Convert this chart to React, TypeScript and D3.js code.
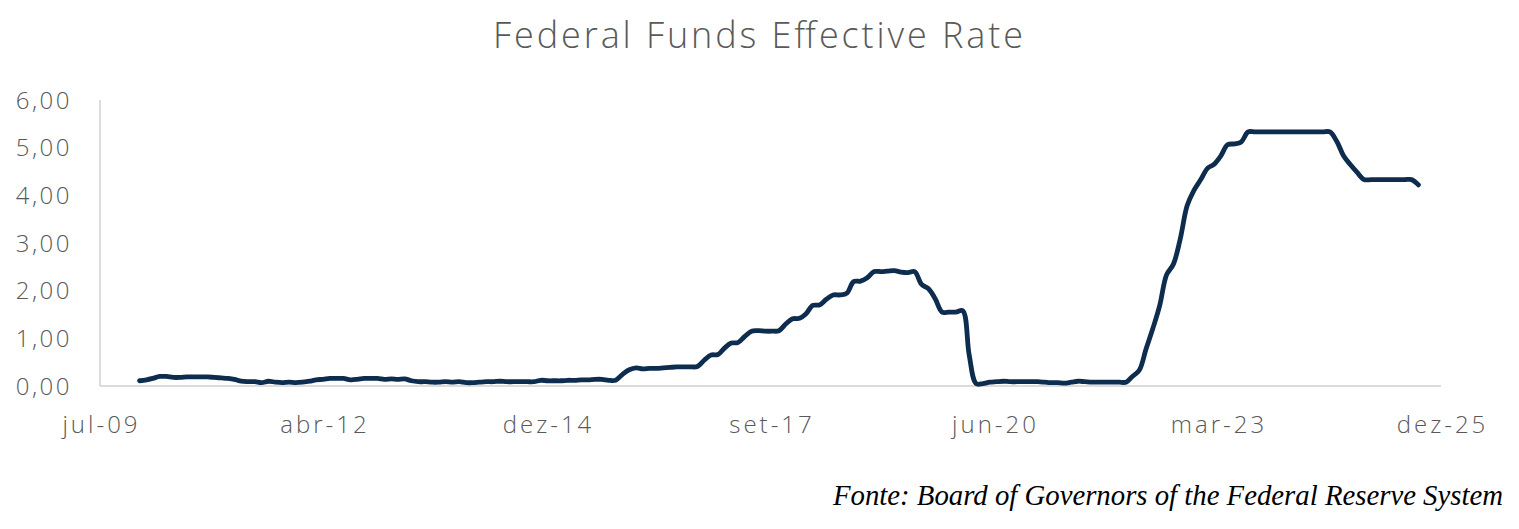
import React from "react";
import * as d3 from "d3";

const title = "Federal Funds Effective Rate";
const source = "Fonte: Board of Governors of the Federal Reserve System";

// monthly series, Jan 2010 .. Sep 2025
const startYear = 2010;
const rates: number[] = [
  // 2010
  0.11, 0.13, 0.16, 0.2, 0.2, 0.18, 0.18, 0.19, 0.19, 0.19, 0.19, 0.18,
  // 2011
  0.17, 0.16, 0.14, 0.1, 0.09, 0.09, 0.07, 0.1, 0.08, 0.07, 0.08, 0.07,
  // 2012
  0.08, 0.1, 0.13, 0.14, 0.16, 0.16, 0.16, 0.13, 0.14, 0.16, 0.16, 0.16,
  // 2013
  0.14, 0.15, 0.14, 0.15, 0.11, 0.09, 0.09, 0.08, 0.08, 0.09, 0.08, 0.09,
  // 2014
  0.07, 0.07, 0.08, 0.09, 0.09, 0.1, 0.09, 0.09, 0.09, 0.09, 0.09, 0.12,
  // 2015
  0.11, 0.11, 0.11, 0.12, 0.12, 0.13, 0.13, 0.14, 0.14, 0.12, 0.12, 0.24,
  // 2016
  0.34, 0.38, 0.36, 0.37, 0.37, 0.38, 0.39, 0.4, 0.4, 0.4, 0.41, 0.54,
  // 2017
  0.65, 0.66, 0.79, 0.9, 0.91, 1.04, 1.15, 1.16, 1.15, 1.15, 1.16, 1.3,
  // 2018
  1.41, 1.42, 1.51, 1.69, 1.7, 1.82, 1.91, 1.91, 1.95, 2.19, 2.2, 2.27,
  // 2019
  2.4, 2.4, 2.41, 2.42, 2.39, 2.38, 2.4, 2.13, 2.04, 1.83, 1.55, 1.55,
  // 2020
  1.55, 1.58, 0.65, 0.05, 0.05, 0.08, 0.09, 0.1, 0.09, 0.09, 0.09, 0.09,
  // 2021
  0.09, 0.08, 0.07, 0.07, 0.06, 0.08, 0.1, 0.09, 0.08, 0.08, 0.08, 0.08,
  // 2022
  0.08, 0.08, 0.2, 0.33, 0.77, 1.21, 1.68, 2.33, 2.56, 3.08, 3.78, 4.1,
  // 2023
  4.33, 4.57, 4.65, 4.83, 5.06, 5.08, 5.12, 5.33, 5.33, 5.33, 5.33, 5.33,
  // 2024
  5.33, 5.33, 5.33, 5.33, 5.33, 5.33, 5.33, 5.33, 5.13, 4.83, 4.64, 4.48,
  // 2025
  4.33, 4.33, 4.33, 4.33, 4.33, 4.33, 4.33, 4.33, 4.22,
];

const yTicks = [0, 1, 2, 3, 4, 5, 6];
const xTickLabels = ["jul-09", "abr-12", "dez-14", "set-17", "jun-20", "mar-23", "dez-25"];
const axisStart = new Date(2009, 6, 8);
const tickStepDays = 1000;

export default function App() {
  const W = 1519;
  const H = 529;
  const left = 100;
  const right = 1441;
  const top = 100;
  const bottom = 386;

  const data = rates.map((v, i) => ({ date: new Date(startYear, i, 1), v }));
  const dayMs = 86400000;
  const tickDates = xTickLabels.map((_, i) => new Date(axisStart.getTime() + i * tickStepDays * dayMs));

  const x = d3.scaleTime().domain([tickDates[0], tickDates[tickDates.length - 1]]).range([left, right]);
  const y = d3.scaleLinear().domain([0, 6]).range([bottom, top]);

  const line = d3
    .line<{ date: Date; v: number }>()
    .x((d) => x(d.date))
    .y((d) => y(d.v))
    .curve(d3.curveCatmullRom.alpha(0.5));

  const fmt = (v: number) => v.toFixed(2).replace(".", ",");
  const gray = "#595959";
  const labelFont = "'Open Sans', Lato, sans-serif";

  return (
    <svg width={W} height={H} style={{ position: "absolute", left: 0, top: 0, background: "#fff" }}>
      <text x={758} y={48} textAnchor="middle" fontFamily={labelFont} fontWeight={300} fontSize={36} fill={gray}
        textLength={530} lengthAdjust="spacing">
        {title}
      </text>
      {/* axes */}
      <line x1={left} x2={left} y1={top} y2={bottom} stroke="#d0d0d0" strokeWidth={1.5} />
      <line x1={left} x2={right} y1={bottom} y2={bottom} stroke="#d0d0d0" strokeWidth={1.5} />
      {yTicks.map((t) => (
        <text key={t} x={72} y={y(t)} dy="0.36em" textAnchor="end" fontFamily={labelFont} fontWeight={300} fontSize={24}
          letterSpacing={2.5} fill={gray}>
          {fmt(t)}
        </text>
      ))}
      {tickDates.map((d, i) => (
        <text key={i} x={x(d) + 1.5} y={424} dy="0.36em" textAnchor="middle" fontFamily={labelFont} fontWeight={300} fontSize={24}
          letterSpacing={3} fill={gray}>
          {xTickLabels[i]}
        </text>
      ))}
      <path d={line(data) ?? ""} fill="none" stroke="#0d2c4e" strokeWidth={4.8} strokeLinejoin="round" strokeLinecap="round" />
      <text
        x={1503}
        y={505}
        textAnchor="end"
        fontFamily="'Liberation Serif', 'DejaVu Serif', serif"
        fontStyle="italic"
        fontSize={29}
        fill="#000"
        textLength={670}
        lengthAdjust="spacingAndGlyphs"
      >
        {source}
      </text>
    </svg>
  );
}
